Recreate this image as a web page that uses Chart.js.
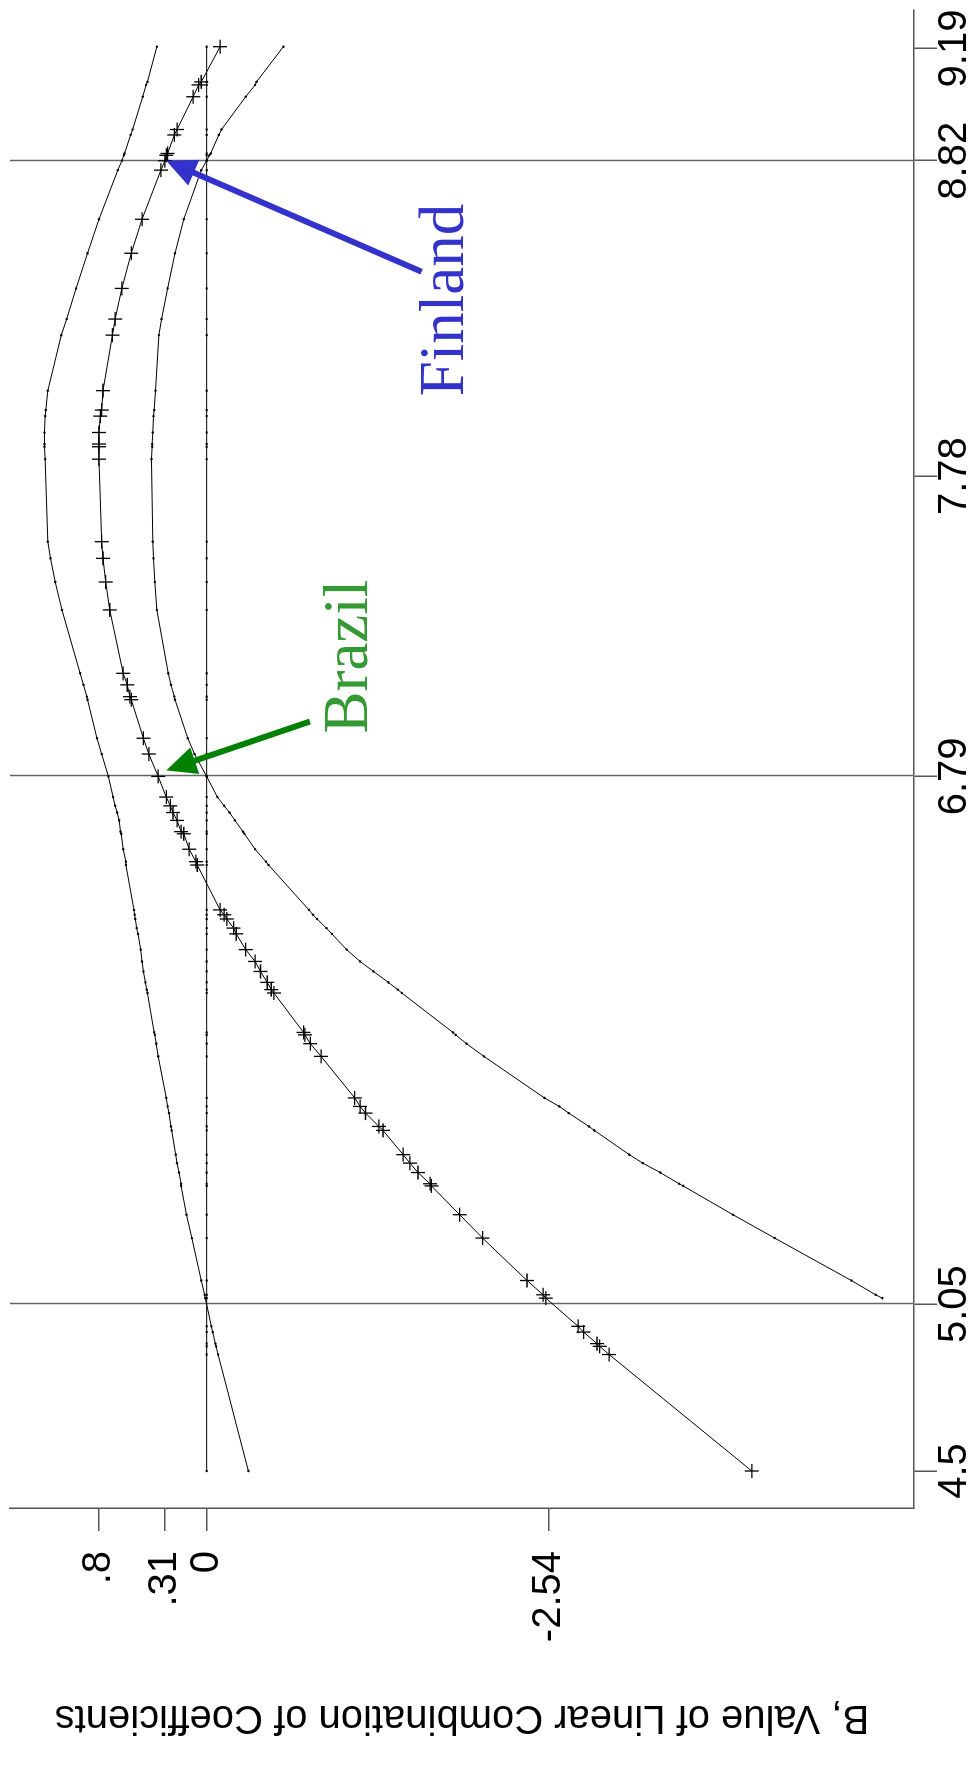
<!DOCTYPE html>
<html>
<head>
<meta charset="utf-8">
<script src="https://cdn.jsdelivr.net/npm/chart.js@4.4.1/dist/chart.umd.min.js"></script>
<style>
  html, body { margin: 0; padding: 0; background: #fff; overflow: hidden; }
  #page { position: relative; width: 976px; height: 1791px; overflow: hidden; background: #fff; }
  /* the chart is laid out landscape and turned a quarter turn to the left */
  #wrap { position: absolute; left: 0; top: 0; width: 1791px; height: 976px;
          transform-origin: 0 0; transform: translate(0, 1791px) rotate(-90deg); }
  canvas { display: block; }
</style>
</head>
<body>
<div id="page"><div id="wrap"><canvas id="c" width="1791" height="976" style="width:1791px;height:976px"></canvas></div></div>
<script>
// log GDP per capita of each country in the sample
const logGdp = [
  4.50, 4.884, 4.911, 4.920, 4.958, 4.977, 5.070, 5.081, 5.128, 5.268,
  5.345, 5.440, 5.447, 5.484, 5.515, 5.543, 5.623, 5.636, 5.680, 5.702,
  5.730, 5.867, 5.909, 5.938, 5.946, 6.076, 6.087, 6.111, 6.147, 6.180,
  6.219, 6.271, 6.290, 6.320, 6.334, 6.350, 6.498, 6.509, 6.550, 6.601,
  6.608, 6.645, 6.671, 6.693, 6.722, 6.790, 6.864, 6.916, 7.043, 7.053,
  7.092, 7.130, 7.339, 7.431, 7.509, 7.564, 7.836, 7.877, 7.886, 7.924,
  7.978, 7.998, 8.062, 8.245, 8.298, 8.399, 8.515, 8.627, 8.789, 8.820,
  8.838, 8.844, 8.905, 8.923, 9.031, 9.070, 9.080, 9.196
];
// B: value of the linear combination of coefficients at each country
const bEstimate = [
  -4.05, -2.99, -2.92, -2.90, -2.80, -2.76, -2.52, -2.50, -2.38, -2.05,
  -1.88, -1.67, -1.66, -1.57, -1.51, -1.46, -1.31, -1.28, -1.18, -1.14,
  -1.10, -0.85, -0.77, -0.73, -0.72, -0.50, -0.48, -0.45, -0.40, -0.36,
  -0.29, -0.22, -0.20, -0.15, -0.13, -0.10, 0.07, 0.08, 0.13, 0.17,
  0.19, 0.22, 0.25, 0.27, 0.30, 0.36, 0.43, 0.47, 0.56, 0.57,
  0.59, 0.62, 0.72, 0.75, 0.77, 0.78, 0.80, 0.80, 0.80, 0.80,
  0.79, 0.78, 0.77, 0.70, 0.68, 0.63, 0.56, 0.48, 0.34, 0.31,
  0.30, 0.29, 0.24, 0.22, 0.10, 0.06, 0.04, -0.10
];
// upper confidence bound
const bUpper = [
  -0.31, -0.085, -0.07, -0.065, -0.045, -0.035, 0.01, 0.015, 0.04, 0.11,
  0.15, 0.19, 0.19, 0.205, 0.22, 0.23, 0.26, 0.265, 0.28, 0.29,
  0.30, 0.36, 0.375, 0.385, 0.39, 0.44, 0.445, 0.455, 0.47, 0.48,
  0.49, 0.51, 0.52, 0.53, 0.535, 0.54, 0.60, 0.60, 0.62, 0.635,
  0.64, 0.65, 0.665, 0.68, 0.695, 0.73, 0.78, 0.815, 0.885, 0.89,
  0.915, 0.94, 1.075, 1.125, 1.16, 1.18, 1.20, 1.205, 1.205, 1.205,
  1.20, 1.195, 1.18, 1.08, 1.04, 0.97, 0.885, 0.80, 0.66, 0.63,
  0.615, 0.61, 0.565, 0.55, 0.475, 0.45, 0.44, 0.37
];
// lower confidence bound (not drawn for the poorest countries)
const bLower = [
  null, null, null, null, null, null, -5.02, -4.97, -4.79, -4.22,
  -3.91, -3.54, -3.51, -3.37, -3.24, -3.14, -2.88, -2.84, -2.69, -2.62,
  -2.51, -2.06, -1.93, -1.85, -1.83, -1.45, -1.42, -1.35, -1.24, -1.14,
  -1.04, -0.93, -0.89, -0.82, -0.79, -0.76, -0.46, -0.44, -0.36, -0.28,
  -0.27, -0.21, -0.17, -0.13, -0.08, 0.00, 0.09, 0.14, 0.235, 0.24,
  0.265, 0.285, 0.37, 0.385, 0.395, 0.40, 0.41, 0.405, 0.405, 0.40,
  0.395, 0.39, 0.38, 0.355, 0.335, 0.29, 0.235, 0.17, 0.04, 0.00,
  -0.02, -0.03, -0.09, -0.11, -0.29, -0.36, -0.37, -0.57
];

const xTicks = [4.5, 5.05, 6.79, 7.78, 8.82, 9.19];
const xTickLabels = ['4.5', '5.05', '6.79', '7.78', '8.82', '9.19'];
const yTicks = [0.8, 0.31, 0, -2.54];
const yTickLabels = ['.8', '.31', '0', '-2.54'];
const refLines = [5.05, 6.79, 8.82];
const yTitle = 'B, Value of Linear Combination of Coefficients';

// labelled countries with their arrows
const countryNames = ['Finland', 'Brazil'];
const arrowTailX = [8.454, 6.971];
const arrowTailY = [-1.597, -0.767];
const arrowTipX = [8.82, 6.81];
const arrowTipY = [0.30, 0.30];
const labelX = [8.361, 7.185];
const labelY = [-1.904, -1.189];
const arrowColors = ['#3333cc', '#008000'];
const labelColors = ['#3333cc', '#339933'];

const toPoints = ys => logGdp.map((x, i) => ({ x: x, y: ys[i] })).filter(p => p.y !== null);
const zeroLine = logGdp.map(x => ({ x: x, y: 0 }));

const sans = '"Liberation Sans", Arial, Helvetica, sans-serif';
const serif = '"Liberation Serif", "Times New Roman", serif';

const guideLines = {
  id: 'guideLines',
  beforeDatasetsDraw(chart) {
    const { ctx, chartArea, scales: { x } } = chart;
    ctx.save();
    ctx.strokeStyle = '#666';
    ctx.lineWidth = 1.5;
    refLines.forEach(v => {
      const px = Math.round(x.getPixelForValue(v)) + 0.5;
      ctx.beginPath();
      ctx.moveTo(px, chartArea.top);
      ctx.lineTo(px, chartArea.bottom);
      ctx.stroke();
    });
    ctx.restore();
  }
};

const callouts = {
  id: 'callouts',
  afterDatasetsDraw(chart) {
    const { ctx, scales: { x, y } } = chart;
    ctx.save();
    countryNames.forEach((name, i) => {
      const x1 = x.getPixelForValue(arrowTailX[i]), y1 = y.getPixelForValue(arrowTailY[i]);
      const x2 = x.getPixelForValue(arrowTipX[i]), y2 = y.getPixelForValue(arrowTipY[i]);
      const len = Math.hypot(x2 - x1, y2 - y1);
      const ux = (x2 - x1) / len, uy = (y2 - y1) / len;
      const headLen = 30, headHalf = 14;
      const bx = x2 - ux * headLen, by = y2 - uy * headLen;
      ctx.strokeStyle = arrowColors[i];
      ctx.fillStyle = arrowColors[i];
      ctx.lineWidth = 6;
      ctx.lineCap = 'butt';
      ctx.beginPath();
      ctx.moveTo(x1, y1);
      ctx.lineTo(bx + ux * 4, by + uy * 4);
      ctx.stroke();
      ctx.beginPath();
      ctx.moveTo(x2, y2);
      ctx.lineTo(bx - uy * headHalf, by + ux * headHalf);
      ctx.lineTo(bx + uy * headHalf, by - ux * headHalf);
      ctx.closePath();
      ctx.fill();

      ctx.fillStyle = labelColors[i];
      ctx.font = '63px ' + serif;
      ctx.textAlign = 'center';
      ctx.textBaseline = 'alphabetic';
      ctx.fillText(name, x.getPixelForValue(labelX[i]), y.getPixelForValue(labelY[i]));
    });
    ctx.restore();
  }
};

new Chart(document.getElementById('c'), {
  type: 'scatter',
  data: {
    datasets: [
      {
        label: 'Upper bound',
        data: toPoints(bUpper),
        showLine: true,
        borderColor: '#000',
        borderWidth: 1,
        pointRadius: 1.2,
        pointStyle: 'circle',
        pointBackgroundColor: '#000',
        pointBorderWidth: 0
      },
      {
        label: 'Lower bound',
        data: toPoints(bLower),
        showLine: true,
        borderColor: '#000',
        borderWidth: 1,
        pointRadius: 1.2,
        pointStyle: 'circle',
        pointBackgroundColor: '#000',
        pointBorderWidth: 0
      },
      {
        label: 'Zero',
        data: zeroLine,
        showLine: true,
        borderColor: '#000',
        borderWidth: 1,
        pointRadius: 1.2,
        pointStyle: 'circle',
        pointBackgroundColor: '#000',
        pointBorderWidth: 0
      },
      {
        label: 'B',
        data: toPoints(bEstimate),
        showLine: true,
        borderColor: '#000',
        borderWidth: 1,
        pointStyle: 'cross',
        pointRadius: 7,
        pointBorderColor: '#000',
        pointBorderWidth: 1.3
      }
    ]
  },
  options: {
    responsive: false,
    devicePixelRatio: 1,
    animation: false,
    events: [],
    layout: { padding: { left: 0, right: 10, top: 10, bottom: 0 } },
    plugins: { legend: { display: false }, tooltip: { enabled: false } },
    scales: {
      x: {
        type: 'linear',
        min: 4.378,
        max: 9.317,
        afterBuildTicks: s => { s.ticks = xTicks.map(v => ({ value: v })); },
        afterFit: s => { s.height = 62; s.paddingLeft = 0; s.paddingRight = 0; },
        ticks: {
          callback: (v, i) => xTickLabels[i],
          autoSkip: false,
          maxRotation: 0,
          minRotation: 0,
          padding: -2,
          color: '#000',
          font: { family: sans, size: 40, lineHeight: 1 }
        },
        grid: { drawOnChartArea: false, drawTicks: true, tickLength: 23, color: '#555', lineWidth: 1.5 },
        border: { display: true, color: '#555', width: 1.5 }
      },
      y: {
        type: 'linear',
        min: -5.255,
        max: 1.461,
        afterBuildTicks: s => { s.ticks = yTicks.map(v => ({ value: v })); },
        afterFit: s => { s.width = 283; s.paddingTop = 0; s.paddingBottom = 0; },
        ticks: {
          callback: (v, i) => yTickLabels[i],
          autoSkip: false,
          padding: 20,
          color: '#000',
          font: { family: sans, size: 40, lineHeight: 1 }
        },
        title: {
          display: true,
          text: yTitle,
          color: '#000',
          font: { family: sans, size: 40, lineHeight: 1.2 },
          padding: { top: 50, bottom: 0 }
        },
        grid: { drawOnChartArea: false, drawTicks: true, tickLength: 23, color: '#555', lineWidth: 1.5 },
        border: { display: true, color: '#555', width: 1.5 }
      }
    }
  },
  plugins: [guideLines, callouts]
});
</script>
</body>
</html>
